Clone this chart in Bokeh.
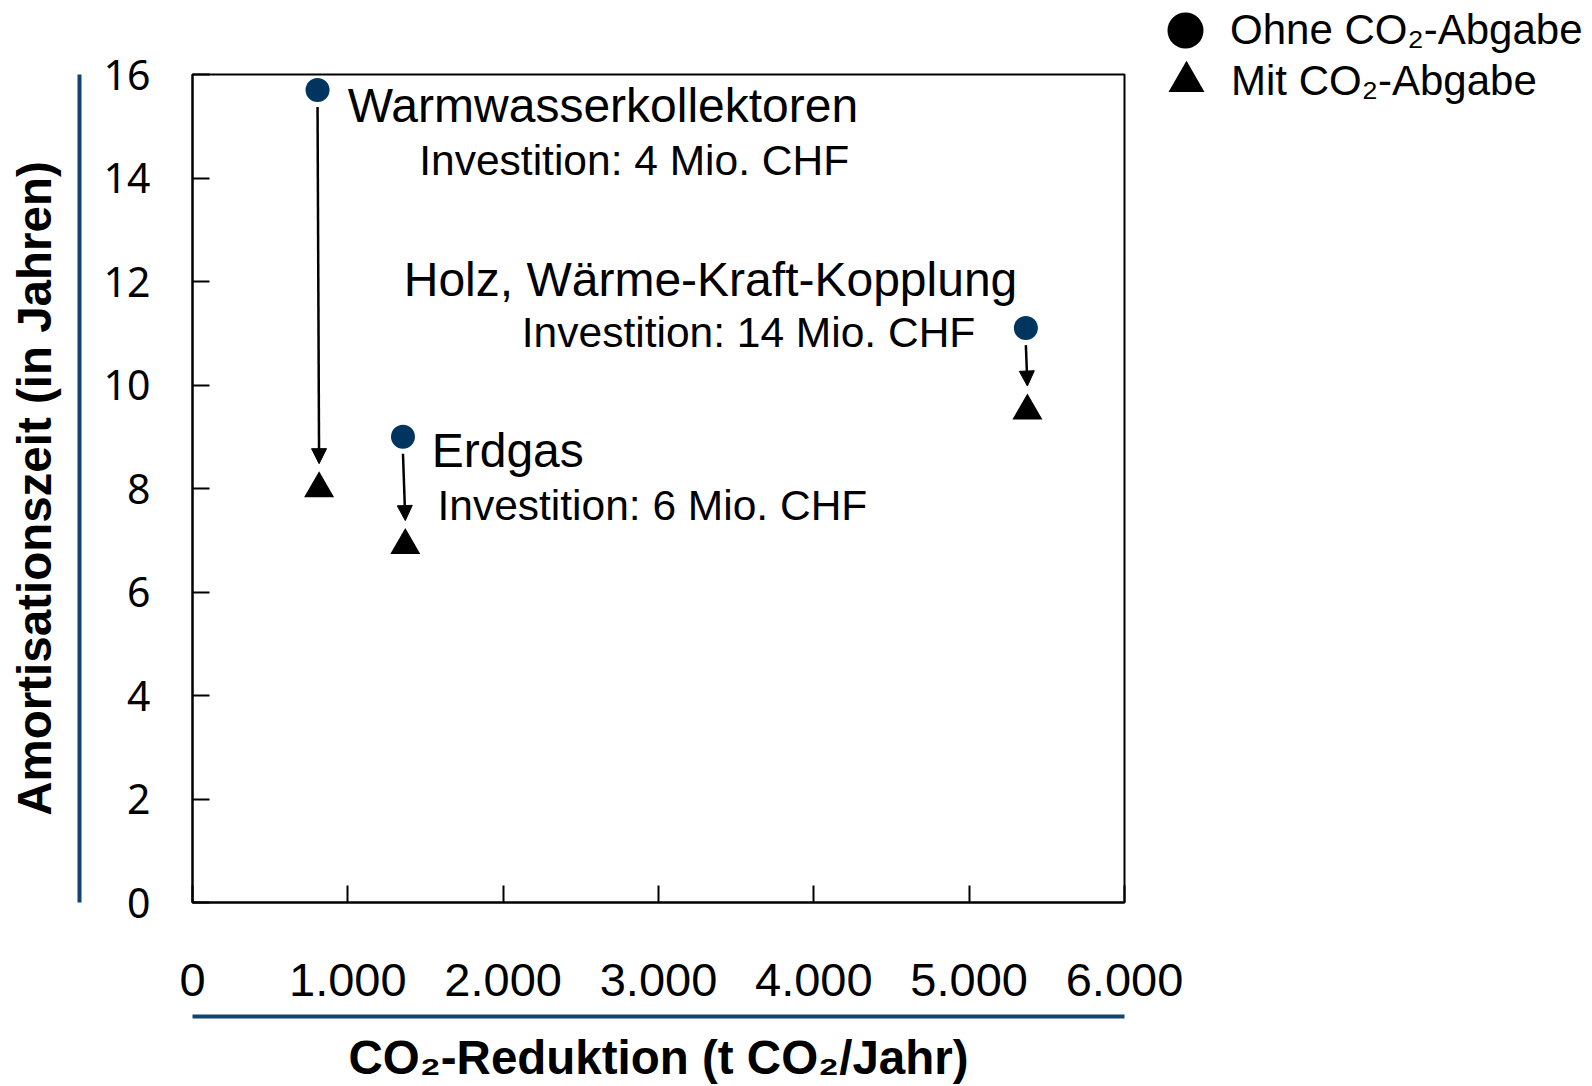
import math
from bokeh.plotting import figure
from bokeh.models import (Range1d, LinearAxis, FixedTicker, Arrow, NormalHead, BoxAnnotation,
                          ColumnDataSource, Label, Legend, LegendItem)
from bokeh.embed import file_html
from bokeh.resources import INLINE

# ---------------- data ----------------
projects = ["Warmwasserkollektoren", "Erdgas", "Holz, Wärme-Kraft-Kopplung"]
investitions = ["Investition: 4 Mio. CHF", "Investition: 6 Mio. CHF", "Investition: 14 Mio. CHF"]
co2_reduction_ohne = [805, 1355, 5365]
co2_reduction_mit = [815, 1370, 5375]
payback_ohne = [15.7, 9.0, 11.1]
payback_mit = [8.0, 6.9, 9.5]
series_names = ["Ohne CO\u2082-Abgabe", "Mit CO\u2082-Abgabe"]
x_ticks = [0, 1000, 2000, 3000, 4000, 5000, 6000]
x_tick_labels = ["0", "1.000", "2.000", "3.000", "4.000", "5.000", "6.000"]
y_ticks = [0, 2, 4, 6, 8, 10, 12, 14, 16]
x_title = "CO\u2082-Reduktion (t CO\u2082/Jahr)"
y_title = "Amortisationszeit (in Jahren)"

# ---------------- layout / style ----------------
W, H = 1592, 1086
BOX_L, BOX_T, BOX_R, BOX_B = 192, 74, 1124, 902   # visible plot box (px)
X_RULE_PX, Y_RULE_PX = 1016, 79                   # blue rules under / beside the axes (px)
X_TITLE_PX, Y_TITLE_PX = 1057, 34                 # centres of the axis titles (px)
NAVY = "#003560"
LINE_BLUE = "#124470"
FONT = "Liberation Sans"
title_pos = [(1000, 15.4), (1540, 8.73), (1360, 12.03)]
sub_pos = [(1460, 14.33), (1577, 7.67), (2120, 11.02)]
arrow_gap_start = 0.33
arrow_gap_end = 0.48

x0, x1 = x_ticks[0], x_ticks[-1]
y0, y1 = y_ticks[0], y_ticks[-1]
sx = (BOX_R - BOX_L) / (x1 - x0)      # px per x unit
sy = (BOX_B - BOX_T) / (y1 - y0)      # px per y unit
# the frame covers the whole canvas; the plot box is drawn inside it
x_start, x_end = x0 - BOX_L / sx, x0 + (W - BOX_L) / sx
y_start, y_end = y0 - (H - BOX_B) / sy, y0 + BOX_B / sy

p = figure(width=W, height=H, x_range=Range1d(x_start, x_end), y_range=Range1d(y_start, y_end),
           output_backend="svg", toolbar_location=None,
           x_axis_location=None, y_axis_location=None,
           min_border_left=0, min_border_top=0, min_border_right=0, min_border_bottom=0)
p.grid.visible = False
p.outline_line_color = None
p.background_fill_color = "white"
p.border_fill_color = "white"

# visible plot box
p.add_layout(BoxAnnotation(left=x0, right=x1, bottom=y0, top=y1, fill_alpha=0,
                           line_color="black", line_alpha=1, line_width=2))

# ---- x axis ----
xa = LinearAxis(ticker=FixedTicker(ticks=x_ticks), bounds=(x0, x1), fixed_location=y0,
                major_label_overrides={t: l for t, l in zip(x_ticks, x_tick_labels)})
xa.axis_line_color = "black"
xa.axis_line_width = 2
xa.major_tick_in = 17
xa.major_tick_out = 0
xa.major_tick_line_width = 2
xa.minor_tick_line_color = None
xa.major_label_standoff = 61
xa.major_label_text_font = FONT
xa.major_label_text_font_size = "47px"
xa.major_label_text_color = "black"
p.add_layout(xa, "below")

xrule = LinearAxis(ticker=FixedTicker(ticks=[]), bounds=(x0, x1),
                   fixed_location=y0 - (X_RULE_PX - BOX_B) / sy)
xrule.axis_line_color = LINE_BLUE
xrule.axis_line_width = 4
xrule.major_tick_in = 0
xrule.major_tick_out = 0
xrule.minor_tick_line_color = None
p.add_layout(xrule, "below")

# ---- y axis ----
ya = LinearAxis(ticker=FixedTicker(ticks=y_ticks), bounds=(y0, y1), fixed_location=x0)
ya.axis_line_color = "black"
ya.axis_line_width = 2
ya.major_tick_in = 17
ya.major_tick_out = 0
ya.major_tick_line_width = 2
ya.minor_tick_line_color = None
ya.major_label_standoff = 42
ya.major_label_text_font = "Noto Sans"
ya.major_label_text_font_size = "41px"
ya.major_label_text_color = "black"
p.add_layout(ya, "left")

yrule = LinearAxis(ticker=FixedTicker(ticks=[]), bounds=(y0, y1),
                   fixed_location=x0 - (BOX_L - Y_RULE_PX) / sx)
yrule.axis_line_color = LINE_BLUE
yrule.axis_line_width = 4
yrule.major_tick_in = 0
yrule.major_tick_out = 0
yrule.minor_tick_line_color = None
p.add_layout(yrule, "left")

# ---- axis titles ----
p.add_layout(Label(x=(x0 + x1) / 2, y=y0 - (X_TITLE_PX - BOX_B) / sy, text=x_title,
                   text_font=FONT, text_font_style="bold", text_font_size="47.5px",
                   text_color="black", text_align="center", text_baseline="middle"))
p.add_layout(Label(x=x0 - (BOX_L - Y_TITLE_PX) / sx, y=(y0 + y1) / 2, text=y_title, angle=math.pi / 2,
                   text_font=FONT, text_font_style="bold", text_font_size="47.5px",
                   text_color="black", text_align="center", text_baseline="middle"))

# ---- arrows ----
arrow_src = ColumnDataSource(dict(
    xs=co2_reduction_ohne,
    ys=[v - arrow_gap_start for v in payback_ohne],
    xe=co2_reduction_mit,
    ye=[v + arrow_gap_end for v in payback_mit],
))
p.add_layout(Arrow(end=NormalHead(size=15, fill_color="black", line_color="black", line_width=1),
                   x_start="xs", y_start="ys", x_end="xe", y_end="ye",
                   source=arrow_src, line_color="black", line_width=2.5))

# ---- markers ----
# black circles hidden under the navy ones: they only supply the legend glyph
leg_circle = p.scatter(co2_reduction_ohne, payback_ohne, marker="circle", size=18,
                       fill_color="black", line_color=None)
p.scatter(co2_reduction_ohne, payback_ohne, marker="circle", size=24,
          fill_color=NAVY, line_color=None)
tri = p.scatter(co2_reduction_mit, payback_mit, marker="triangle", size=30,
                fill_color="black", line_color=None)

# ---- text labels ----
for (tx, ty), t in zip(title_pos, projects):
    p.add_layout(Label(x=tx, y=ty, text=t, text_font=FONT, text_font_size="48px",
                       text_color="black", text_align="left", text_baseline="alphabetic"))
for (tx, ty), t in zip(sub_pos, investitions):
    p.add_layout(Label(x=tx, y=ty, text=t, text_font=FONT, text_font_size="42.5px",
                       text_color="black", text_align="left", text_baseline="alphabetic"))

# ---- legend (top right) ----
for r, name, loc in [(leg_circle, series_names[0], (1140, 1007)), (tri, series_names[1], (1141, 956))]:
    lg = Legend(items=[LegendItem(label=name, renderers=[r])], location=loc,
                glyph_width=90, glyph_height=98, label_standoff=0, padding=0, margin=0,
                spacing=0, border_line_color=None, background_fill_alpha=0,
                label_text_font=FONT, label_text_font_size="42px", label_text_color="black")
    p.add_layout(lg)

open("out.html", "w").write(file_html(p, INLINE))
